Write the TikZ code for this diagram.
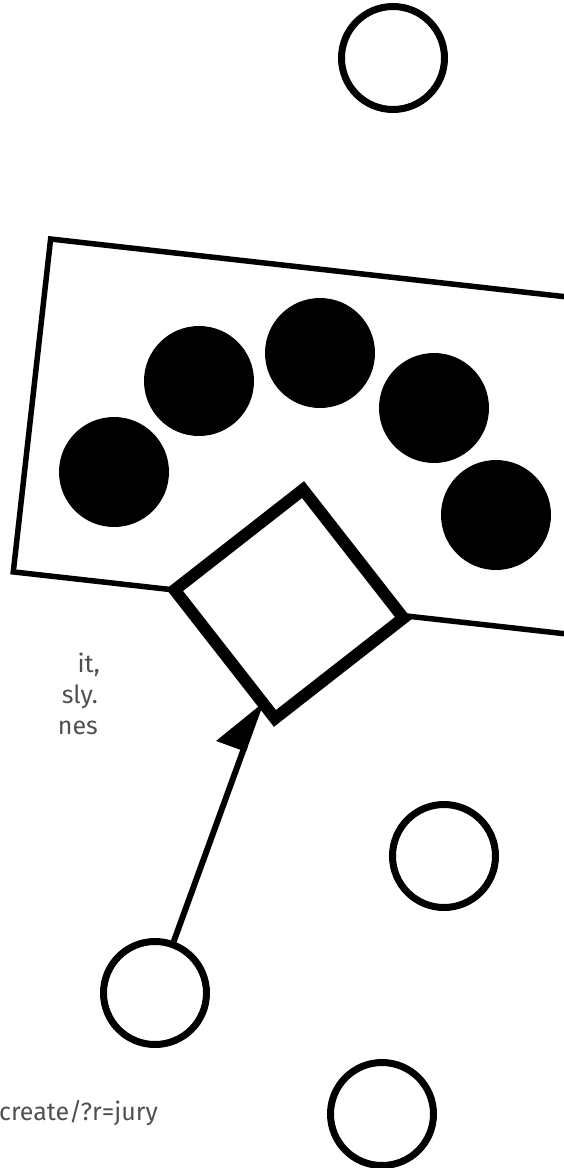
\documentclass[tikz,border=0pt]{standalone}
\usepackage{fontspec}
\setmainfont{Fira Sans}
\usetikzlibrary{arrows.meta}
\definecolor{textgray}{RGB}{80,80,80}
\pgfdeclarelayer{bg}
\pgfsetlayers{bg,main}
\begin{document}
\begin{tikzpicture}[x=1pt,y=-1pt,
  ring/.style={circle,draw,line width=7pt,minimum size=103pt,inner sep=0pt,fill=white},
  dot/.style={circle,fill=black,minimum size=110pt,inner sep=0pt},
  frame/.style={draw,line width=5.5pt,minimum width=620pt,minimum height=335pt,rotate=-6.4,inner sep=0pt},
  gate/.style={draw,line width=12pt,minimum size=163pt,fill=white,rotate=38,inner sep=0pt,outer sep=0pt},
  link/.style={line width=6pt,-{Triangle[left,length=48pt,width=56pt]}},
  txt/.style={text=textgray,font=\fontsize{25pt}{31pt}\selectfont,inner sep=0pt}]
\useasboundingbox (0,0) rectangle (563,1168);
% paragraph fragments
\node[txt,anchor=base east] (t1) at (100,672) {it,};
\node[txt,anchor=base east] (t2) at (98,703) {sly.};
\node[txt,anchor=base east] (t3) at (98,734) {nes};
\node[txt,anchor=base east] (t4) at (158,1120) {create/?r=jury};
% frame with dots
\node[frame] (box) at (340,440) {};
\node[dot] (d1) at (114,472) {};
\node[dot] (d2) at (199,381) {};
\node[dot] (d3) at (320,353) {};
\node[dot] (d4) at (434,408) {};
\node[dot] (d5) at (496,515) {};
% rings
\node[ring] (r1) at (393,58) {};
\node[ring] (r2) at (444,856) {};
\node[ring] (r3) at (155,993) {};
\node[ring] (r4) at (382,1114) {};
% gate
\node[gate] (g) at (289,604) {};
\begin{pgfonlayer}{bg}
\draw[link] (r3) -- (g.216);
\end{pgfonlayer}
\end{tikzpicture}
\end{document}
